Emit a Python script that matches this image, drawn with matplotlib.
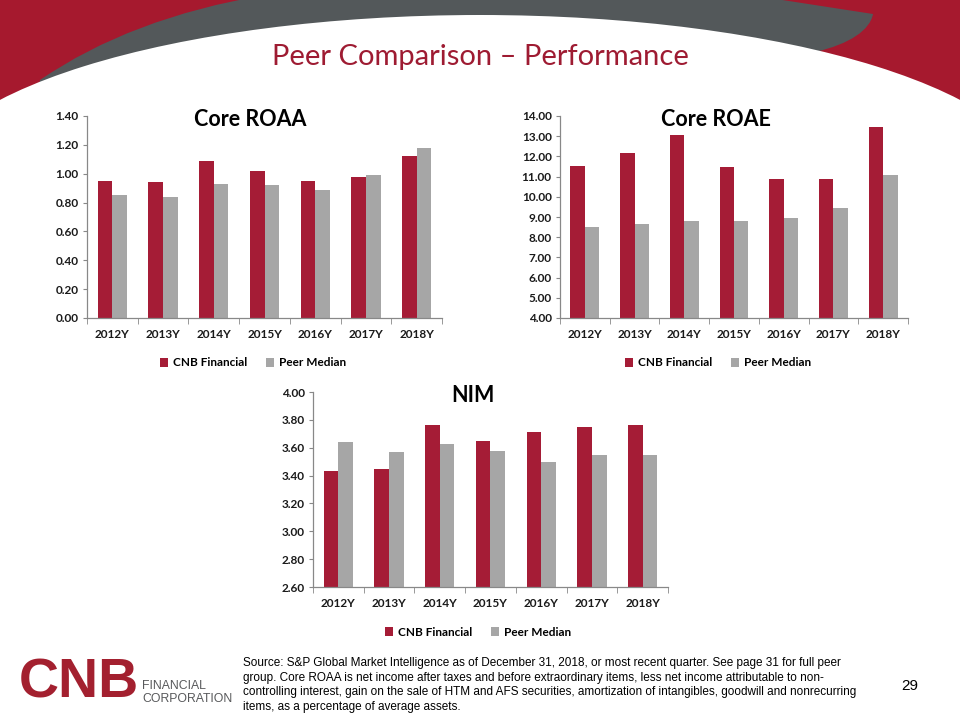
import matplotlib
matplotlib.use('Agg')
import matplotlib.pyplot as plt
from matplotlib.patches import Ellipse, Rectangle, PathPatch
from matplotlib.path import Path
import numpy as np

# data
years = ['2012Y', '2013Y', '2014Y', '2015Y', '2016Y', '2017Y', '2018Y']
roaa_cnb = [0.95, 0.94, 1.09, 1.02, 0.95, 0.98, 1.12]
roaa_peer = [0.85, 0.84, 0.93, 0.92, 0.89, 0.99, 1.18]
roae_cnb = [11.50, 12.17, 13.06, 11.47, 10.88, 10.88, 13.45]
roae_peer = [8.50, 8.64, 8.79, 8.79, 8.94, 9.44, 11.06]
nim_cnb = [3.43, 3.45, 3.76, 3.65, 3.71, 3.75, 3.76]
nim_peer = [3.64, 3.57, 3.63, 3.58, 3.50, 3.55, 3.55]
series_names = ['CNB Financial', 'Peer Median']

RED = '#A51C36'
GRAY = '#A6A6A6'
HDR_RED = '#A6192E'
HDR_GRAY = '#53585A'
TITLE_RED = '#9E1B32'
W, H = 960, 720

plt.rcParams['font.family'] = ['Lato', 'DejaVu Sans']

fig = plt.figure(figsize=(9.6, 7.2), dpi=100)

# background / header decoration in pixel coords
bg = fig.add_axes([0, 0, 1, 1], zorder=0)
bg.set_xlim(0, W)
bg.set_ylim(H, 0)
bg.axis('off')
bg.add_patch(Rectangle((0, 0), W, 130, color=HDR_RED, lw=0))
verts = [(40, 80), (130, 18), (265, -5), (265, -5),
         (750, -5), (750, -5), (873, 14),
         (870, 30), (850, 44), (815, 52),
         (800, 140), (30, 140), (40, 80)]
codes = [Path.MOVETO, Path.CURVE3, Path.CURVE3, Path.LINETO,
         Path.LINETO, Path.LINETO, Path.LINETO,
         Path.CURVE4, Path.CURVE4, Path.CURVE4,
         Path.LINETO, Path.LINETO, Path.CLOSEPOLY]
bg.add_patch(PathPatch(Path(verts, codes), color=HDR_GRAY, lw=0))
bg.add_patch(Ellipse((480, 190), 1120, 350, color='white', lw=0))
bg.add_patch(Rectangle((0, 125), W, H - 125, color='white', lw=0))

bg.text(480, 57, 'Peer Comparison \u2013 Performance', color=TITLE_RED,
        fontsize=21, ha='center', va='center')

# footer
bg.text(19, 684, 'CNB', color='#A3202F', fontsize=40, fontweight='heavy',
        ha='left', va='center', family=['Liberation Sans', 'DejaVu Sans'])
bg.text(142, 686, 'FINANCIAL', color='#58595B', fontsize=8.8, ha='left', va='center',
        family=['Liberation Sans'])
bg.text(142, 699, 'CORPORATION', color='#58595B', fontsize=8.8, ha='left', va='center',
        family=['Liberation Sans'])
src = ('Source: S&P Global Market Intelligence as of December 31, 2018, or most recent quarter. See page 31 for full peer\n'
       'group. Core ROAA is net income after taxes and before extraordinary items, less net income attributable to non-\n'
       'controlling interest, gain on the sale of HTM and AFS securities, amortization of intangibles, goodwill and nonrecurring\n'
       'items, as a percentage of average assets.')
bg.text(243, 657, src, fontsize=8.5, ha='left', va='top', linespacing=1.3,
        family=['Liberation Sans'], color='black')
bg.text(910, 686, '29', fontsize=11, ha='center', va='center', family=['Liberation Sans'])


def px(l, t, r, b):
    return [l / W, 1 - b / H, (r - l) / W, (b - t) / H]


def bar_panel(rect, cnb, peer, ylo, yhi, step, title, title_xy, leg_xy):
    ax = fig.add_axes(px(*rect), zorder=2)
    ax.patch.set_alpha(0)
    x = np.arange(len(years))
    w = 0.29
    b1 = ax.bar(x - w / 2, np.array(cnb) - ylo, w, bottom=ylo, color=RED, label=series_names[0])
    b2 = ax.bar(x + w / 2, np.array(peer) - ylo, w, bottom=ylo, color=GRAY, label=series_names[1])
    ax.set_xlim(-0.5, len(years) - 0.5)
    ax.set_ylim(ylo, yhi)
    ax.set_yticks(np.arange(ylo, yhi + step / 2, step))
    ax.yaxis.set_major_formatter(matplotlib.ticker.FormatStrFormatter('%.2f'))
    ax.set_xticks(x)
    ax.set_xticklabels(years)
    ax.set_xticks(np.arange(-0.5, len(years)), minor=True)
    ax.tick_params(axis='x', which='major', length=0, pad=8)
    ax.tick_params(axis='x', which='minor', length=4, color='#888888', direction='out')
    ax.tick_params(axis='y', length=3, color='#888888', pad=3)
    for lab in ax.get_xticklabels() + ax.get_yticklabels():
        lab.set_fontsize(8.5)
        lab.set_fontweight('bold')
        lab.set_color('#1a1a1a')
    for s in ['top', 'right']:
        ax.spines[s].set_visible(False)
    for s in ['left', 'bottom']:
        ax.spines[s].set_color('#888888')
        ax.spines[s].set_linewidth(0.9)
    bg.text(title_xy[0], title_xy[1], title, fontsize=15.5, fontweight='bold',
            ha='center', va='center', color='black')
    ax.legend(handles=[b1, b2], loc='center', ncol=2, frameon=False,
              bbox_to_anchor=(leg_xy[0] / W, 1 - leg_xy[1] / H), bbox_transform=fig.transFigure,
              handlelength=0.7, handleheight=0.7, handletextpad=0.4, columnspacing=1.6,
              prop={'size': 8.5, 'weight': 'bold'})
    return ax


bar_panel((87, 116, 442, 318), roaa_cnb, roaa_peer, 0.0, 1.40, 0.20,
          'Core ROAA', (250, 120), (253, 363))
bar_panel((560, 116, 908, 318), roae_cnb, roae_peer, 4.0, 14.0, 1.0,
          'Core ROAE', (716, 119), (718, 363))
bar_panel((313, 392, 668, 587), nim_cnb, nim_peer, 2.60, 4.00, 0.20,
          'NIM', (473, 395), (478, 632))

fig.savefig('out.png', dpi=100)
